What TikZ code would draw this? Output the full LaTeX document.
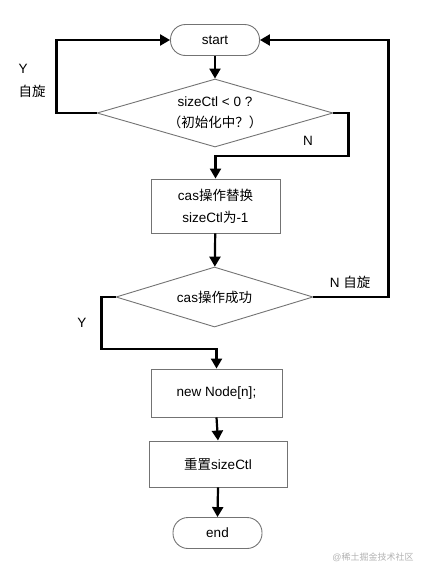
\documentclass[tikz,border=0pt]{standalone}
\usepackage{fontspec}
\setmainfont{Liberation Sans}
\newfontfamily\cjk{Noto Sans CJK SC}
\usetikzlibrary{shapes.geometric,arrows.meta}

\begin{document}
\begin{tikzpicture}[x=1pt, y=-1pt,
  term/.style={draw=black!55, line width=0.9pt, rounded corners=15pt, minimum width=89pt, minimum height=31pt, font=\fontsize{13.5}{16}\selectfont},
  proc/.style={draw=black!55, line width=0.9pt, align=center, font=\fontsize{13.5}{22}\selectfont},
  decide/.style={draw=black!55, line width=0.9pt, diamond, shape aspect=3.5, inner sep=0pt, align=center, font=\fontsize{13.5}{21}\selectfont},
  flow/.style={line width=2.2pt, -{Triangle[length=10pt, width=11pt]}},
  lbl/.style={font=\fontsize{13.5}{16}\selectfont}]
  \useasboundingbox (0,0) rectangle (428,576);
  \node[term] (start) at (215,40) {start};
  \node[decide, minimum width=236pt, minimum height=68pt] (init) at (215,113) {sizeCtl < 0 ?\\{\cjk （初始化中？）}};
  \node[proc, minimum width=129pt, minimum height=54pt] (cas) at (215.5,206) {cas{\cjk 操作替换}\\sizeCtl{\cjk 为}-1};
  \node[decide, minimum width=197pt, minimum height=60pt] (ok) at (214.5,297) {cas{\cjk 操作成功}};
  \node[proc, minimum width=131pt, minimum height=48pt] (alloc) at (216.5,393) {new Node[n];};
  \node[proc, minimum width=138pt, minimum height=46pt] (reset) at (218,464) {{\cjk 重置}sizeCtl};
  \node[term] (end) at (217.5,533) {end};
  % connectors
  \draw[flow] (start) -- (init);
  \draw[flow] (init.west) -- ++(-40,0) |- (start.west);
  \draw[flow] (init.east) -- ++(15,0) -- ++(0,43) -| (cas.north);
  \draw[flow] (cas) -- (ok);
  \draw[flow] (ok.east) -- ++(75,0) |- (start.east);
  \draw[flow] (ok.west) -- ++(-14,0) -- ++(0,52) -| (alloc.north);
  \draw[flow] (alloc.south) -- (reset.north);
  \draw[flow] (reset.south) -- (end.north);
  % labels
  \node[lbl, anchor=west] (yinit) at (15,69) {Y};
  \node[lbl, anchor=west] (spin) at (15,91) {\cjk 自旋};
  \node[lbl] (ninit) at (308,141) {N};
  \node[lbl] (nok) at (350,282) {N {\cjk 自旋}};
  \node[lbl] (yok) at (82,323) {Y};
  \node[font=\fontsize{9}{11}\selectfont, text=black!30] (mark) at (373,557) {@{\cjk 稀土掘金技术社区}};
\end{tikzpicture}
\end{document}
